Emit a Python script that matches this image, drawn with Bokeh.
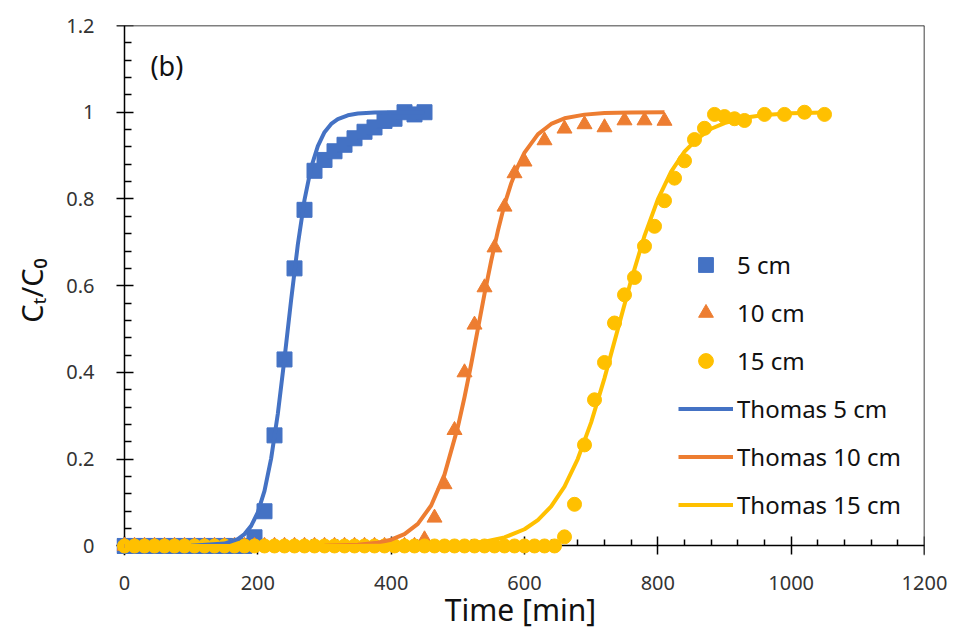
from bokeh.plotting import figure
from bokeh.models import Range1d, FixedTicker, Span, Label, Legend, LegendItem, LinearAxis
from bokeh.embed import file_html
from bokeh.resources import INLINE

# ---------------- data ----------------
# measured breakthrough points, bed height 5 cm
t5 = [0, 15, 30, 45, 60, 75, 90, 105, 120, 135, 150, 165, 180, 195, 210, 225, 240,
      255, 270, 285, 300, 315, 330, 345, 360, 375, 390, 405, 420, 435, 450]
c5 = [0, 0, 0, 0, 0, 0, 0, 0, 0, 0, 0, 0, 0, 0.02, 0.08, 0.255, 0.43,
      0.64, 0.775, 0.865, 0.89, 0.91, 0.925, 0.94, 0.955, 0.965, 0.98, 0.985, 1.0, 0.995, 1.0]

# bed height 10 cm
t10 = [0, 15, 30, 45, 60, 75, 90, 105, 120, 135, 150, 165, 180, 195, 210, 225, 240, 255,
       270, 285, 300, 315, 330, 345, 360, 375, 390, 405, 420, 435,
       450, 465, 480, 495, 510, 525, 540, 555, 570, 585, 600,
       630, 660, 690, 720, 750, 780, 810]
c10 = [0, 0, 0, 0, 0, 0, 0, 0, 0, 0, 0, 0, 0, 0, 0, 0, 0, 0,
       0, 0, 0, 0, 0, 0, 0, 0, 0, 0, 0, 0,
       0.015, 0.065, 0.142, 0.267, 0.40, 0.51, 0.596, 0.688, 0.782, 0.859, 0.886,
       0.935, 0.962, 0.972, 0.965, 0.981, 0.981, 0.98]

# bed height 15 cm
t15 = [0, 15, 30, 45, 60, 75, 90, 105, 120, 135, 150, 165, 180, 195, 210, 225, 240, 255,
       270, 285, 300, 315, 330, 345, 360, 375, 390, 405, 420, 435, 450, 465, 480, 495,
       510, 525, 540, 555, 570, 585, 600, 615, 630, 645,
       660, 675, 690, 705, 720, 735, 750, 765, 780, 795, 810, 825, 840, 855, 870, 885,
       900, 915, 930, 960, 990, 1020, 1050]
c15 = [0, 0, 0, 0, 0, 0, 0, 0, 0, 0, 0, 0, 0, 0, 0, 0, 0, 0,
       0, 0, 0, 0, 0, 0, 0, 0, 0, 0, 0, 0, 0, 0, 0, 0,
       0, 0, 0, 0, 0, 0, 0, 0, 0, 0,
       0.021, 0.096, 0.233, 0.337, 0.423, 0.514, 0.579, 0.619, 0.691, 0.737, 0.796,
       0.848, 0.888, 0.937, 0.963, 0.995,
       0.99, 0.985, 0.981, 0.995, 0.995, 1.0, 0.995]

# Thomas model curves
tm5 = [0, 100, 150, 170, 180, 190, 200, 210, 220, 230, 240, 250, 260, 270, 280, 290,
       300, 310, 320, 335, 350, 375, 400, 450]
th5 = [0.0, 0.0003, 0.0054, 0.0159, 0.0273, 0.0463, 0.0776, 0.127, 0.202, 0.305, 0.432,
       0.568, 0.695, 0.798, 0.873, 0.922, 0.954, 0.973, 0.984, 0.993, 0.997, 0.9992,
       0.9998, 1.0]

tm10 = [0, 200, 300, 350, 380, 400, 420, 440, 460, 480, 500, 510, 520, 530, 540, 550,
        560, 570, 580, 590, 600, 620, 640, 660, 690, 720, 760, 810]
th10 = [0.0, 0.0, 0.0006, 0.0029, 0.0076, 0.0144, 0.0273, 0.0509, 0.0932, 0.1645, 0.274,
        0.343, 0.419, 0.5, 0.581, 0.657, 0.726, 0.787, 0.836, 0.875, 0.907, 0.949, 0.973,
        0.986, 0.9945, 0.998, 0.9994, 0.9999]

tm15 = [0, 300, 400, 450, 500, 540, 570, 600, 620, 640, 660, 680, 700, 720, 740, 760,
        780, 800, 820, 840, 860, 880, 900, 930, 960, 1000, 1050]
th15 = [0.0, 0.0, 0.0004, 0.0013, 0.004, 0.01, 0.0196, 0.0385, 0.0595, 0.0911, 0.137,
        0.201, 0.285, 0.387, 0.5, 0.613, 0.715, 0.799, 0.863, 0.909, 0.940, 0.962, 0.975,
        0.9875, 0.9937, 0.9975, 0.9992]

series_labels = ["5 cm", "10 cm", "15 cm", "Thomas 5 cm", "Thomas 10 cm", "Thomas 15 cm"]

x_ticks = [0, 200, 400, 600, 800, 1000, 1200]
x_tick_labels = ["0", "200", "400", "600", "800", "1000", "1200"]
y_ticks = [0, 0.2, 0.4, 0.6, 0.8, 1.0, 1.2]
y_tick_labels = ["0", "0.2", "0.4", "0.6", "0.8", "1", "1.2"]

# ---------------- styling ----------------
BLUE = "#4472C4"
ORANGE = "#ED7D31"
YELLOW = "#FFC000"
FONT = "Noto Sans"
TICK_COLOR = "#333333"
TEXT_COLOR = "#111111"

p = figure(width=950, height=635, output_backend="svg", toolbar_location=None,
           x_range=Range1d(-12, 1200), y_range=Range1d(-0.022, 1.2),
           min_border_left=116, min_border_right=26, min_border_top=25,
           min_border_bottom=80)
p.grid.visible = False
p.outline_line_color = None
p.background_fill_color = "white"
p.border_fill_color = "white"

x_minor = [v for v in range(0, 1201, 40) if v % 200 != 0]
y_minor = [round(i * 0.04, 2) for i in range(0, 31) if i % 5 != 0]


def hide_lines(ax):
    ax.axis_line_color = None
    ax.major_tick_line_color = None
    ax.minor_tick_line_color = None
    ax.major_tick_in = 0
    ax.major_tick_out = 0
    ax.minor_tick_in = 0
    ax.minor_tick_out = 0


def style_lines(ax, major_in, major_out, minor_in):
    ax.fixed_location = 0
    ax.level = "underlay"
    ax.major_tick_in = major_in
    ax.major_tick_out = major_out
    ax.minor_tick_in = minor_in
    ax.minor_tick_out = 0
    ax.axis_line_width = 1.5
    ax.major_tick_line_width = 1.5
    ax.minor_tick_line_width = 1.5
    ax.axis_line_color = "black"
    ax.major_tick_line_color = "black"
    ax.minor_tick_line_color = "black"
    ax.major_label_text_alpha = 0
    ax.major_label_text_font_size = "1px"
    ax.axis_label = None


# label-only axes (sit on the frame edges)
xa = p.xaxis[0]
hide_lines(xa)
xa.ticker = FixedTicker(ticks=x_ticks)
xa.major_label_overrides = {t: s for t, s in zip(x_ticks, x_tick_labels)}
xa.major_label_text_font = FONT
xa.major_label_text_font_size = "20px"
xa.major_label_text_color = TICK_COLOR
xa.major_label_standoff = 20
xa.axis_label = "Time [min]"
xa.axis_label_text_font = FONT
xa.axis_label_text_font_size = "30px"
xa.axis_label_text_font_style = "normal"
xa.axis_label_text_color = TEXT_COLOR
xa.axis_label_standoff = -4

ya = p.yaxis[0]
hide_lines(ya)
ya.ticker = FixedTicker(ticks=y_ticks)
ya.major_label_overrides = {t: s for t, s in zip(y_ticks, y_tick_labels)}
ya.major_label_text_font = FONT
ya.major_label_text_font_size = "20px"
ya.major_label_text_color = TICK_COLOR
ya.major_label_standoff = 22
ya.axis_label = "Cₜ/C₀"
ya.axis_label_text_font = FONT
ya.axis_label_text_font_size = "29px"
ya.axis_label_text_font_style = "normal"
ya.axis_label_text_color = TEXT_COLOR
ya.axis_label_standoff = 12

# line/tick axes crossing at zero, drawn beneath the markers
xl = LinearAxis(ticker=FixedTicker(ticks=x_ticks, minor_ticks=x_minor))
style_lines(xl, 9, 9, 6)
p.add_layout(xl, "below")
yl = LinearAxis(ticker=FixedTicker(ticks=y_ticks, minor_ticks=y_minor))
style_lines(yl, 9, 9, 7)
p.add_layout(yl, "left")

# top and right frame borders
p.add_layout(Span(location=1.2, dimension="width", line_color="black", line_width=1.5,
                  level="underlay"))
p.add_layout(Span(location=1200, dimension="height", line_color="black", line_width=1.5,
                  level="underlay"))

# ---------------- glyphs ----------------
r1 = p.scatter(t5, c5, marker="square", size=15, fill_color=BLUE, line_color=BLUE)
r2 = p.scatter(t10, c10, marker="triangle", size=15, fill_color=ORANGE, line_color=ORANGE)
r3 = p.scatter(t15, c15, marker="circle", size=14, fill_color=YELLOW, line_color=YELLOW)
r4 = p.line(tm5, th5, line_width=4, line_color=BLUE, line_join="round")
r5 = p.line(tm10, th10, line_width=4, line_color=ORANGE, line_join="round")
r6 = p.line(tm15, th15, line_width=4, line_color=YELLOW, line_join="round")

legend = Legend(
    items=[LegendItem(label=lab, renderers=[r]) for lab, r in
           zip(series_labels, [r1, r2, r3, r4, r5, r6])],
    location=(562, 32), glyph_width=55, glyph_height=37, label_height=37,
    spacing=11, padding=0, margin=0, border_line_color=None,
    background_fill_alpha=0, label_standoff=4,
    label_text_font=FONT, label_text_font_size="24px", label_text_color=TEXT_COLOR)
p.add_layout(legend)

p.add_layout(Label(x=39, y=1.108, text="(b)", text_font=FONT, text_font_size="27px",
                   text_baseline="middle", text_align="left", text_color=TEXT_COLOR))

open("out.html", "w").write(file_html(p, INLINE))
